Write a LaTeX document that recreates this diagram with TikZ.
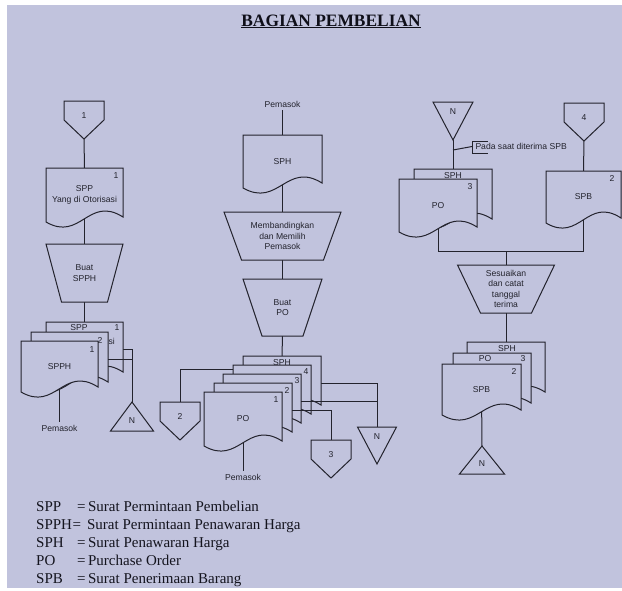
\documentclass[tikz,border=0pt]{standalone}
\usepackage{fontspec}
\setmainfont{Liberation Serif}
\newfontfamily\dsans{Liberation Sans}
\usetikzlibrary{calc}
\definecolor{paper}{RGB}{193,195,221}
\definecolor{ink}{RGB}{35,35,45}
\pgfdeclarelayer{bgfill}
\pgfdeclarelayer{wires}
\pgfsetlayers{bgfill,wires,main}

% document shape: name, x, y (top-left), w, h, text
\newcommand{\flowdoc}[6]{%
  \path[shapeline] (#2,#3) -- ({#2+#4},#3) -- ({#2+#4},{#3+#5-5})
     .. controls ({#2+0.55*#4},{#3+#5-27}) and ({#2+0.45*#4},{#3+#5+20}) .. (#2,{#3+#5}) -- cycle;
  \node[lbl, minimum width=#4, minimum height=#5] (#1) at ({#2+#4/2},{#3+#5/2}) {#6};
}
% manual operation (trapezium): name, cx, ytop, topw, botw, h, text
\newcommand{\trapop}[7]{%
  \path[shapeline] ({#2-#4/2},#3) -- ({#2+#4/2},#3) -- ({#2+#5/2},{#3+#6}) -- ({#2-#5/2},{#3+#6}) -- cycle;
  \node[lbl, minimum width=#4, minimum height=#6] (#1) at (#2,{#3+#6/2}) {#7};
}
% off-page connector: name, cx, ytop, label
\newcommand{\offpg}[4]{%
  \path[shapeline] ({#2-20},#3) -- ({#2+20},#3) -- ({#2+20},{#3+19}) -- (#2,{#3+38}) -- ({#2-20},{#3+19}) -- cycle;
  \node[holder, minimum width=40, minimum height=38] (#1) at (#2,{#3+19}) {};
  \node[lbl] (#1-t) at (#2,{#3+14.5}) {#4};
}
% file triangle pointing up: name, cx, yapex, w, h
\newcommand{\trup}[5]{%
  \path[shapeline] (#2,#3) -- ({#2+#4/2},{#3+#5}) -- ({#2-#4/2},{#3+#5}) -- cycle;
  \node[holder, minimum width=#4, minimum height=#5] (#1) at (#2,{#3+#5/2}) {};
  \node[lbl] (#1-t) at (#2,{#3+#5-10}) {N};
}
% file triangle pointing down: name, cx, ytop, w, h
\newcommand{\trdn}[5]{%
  \path[shapeline] ({#2-#4/2},#3) -- ({#2+#4/2},#3) -- (#2,{#3+#5}) -- cycle;
  \node[holder, minimum width=#4, minimum height=#5] (#1) at (#2,{#3+#5/2}) {};
  \node[lbl] (#1-t) at (#2,{#3+10}) {N};
}

\begin{document}
\begin{tikzpicture}[x=1pt,y=-1pt,
  shapeline/.style={draw=ink, line width=1pt, fill=paper, line join=miter},
  wire/.style={draw=ink, line width=1pt},
  lbl/.style={font=\dsans\fontsize{8.6}{10.5}\selectfont, text=ink, inner sep=0pt, outer sep=0pt, align=center},
  pemlbl/.style={lbl, inner sep=3pt},
  holder/.style={inner sep=0pt, outer sep=0pt, draw=none},
  leg/.style={font=\fontsize{15}{18}\selectfont, text={rgb,255:red,20;green,20;blue,30}, inner sep=0pt, anchor=base west}]
\useasboundingbox (0,0) rectangle (622,590);
\begin{pgfonlayer}{bgfill}
  \fill[white] (0,0) rectangle (622,590);
  \fill[paper] (7,5) rectangle (622,588);
\end{pgfonlayer}

% title
\node[font=\bfseries\fontsize{17.4}{20}\selectfont, anchor=base, text={rgb,255:red,15;green,15;blue,25}, inner sep=0pt] (title) at (331,26) {\underline{BAGIAN PEMBELIAN}};

% ---------- left column ----------
\offpg{c1}{84}{101}{1}
\flowdoc{sppY}{46}{168}{77}{54}{SPP\\Yang di Otorisasi}
\node[lbl] (sppY-n) at (116,176) {1};
\trapop{bspph}{84.5}{244}{77}{46}{58}{Buat\\SPPH}
\flowdoc{sppB}{46}{322}{77}{55}{}
\node[lbl] (sppB-t) at (79,328) {SPP};
\node[lbl] (sppB-n) at (117,328) {1};
\node[lbl, anchor=west] (sppB-s) at (108.5,341) {si};
\flowdoc{sppM}{31}{332}{77}{55}{}
\node[lbl] (sppM-n) at (100,340) {2};
\flowdoc{spph}{21}{341}{77}{51}{SPPH}
\node[lbl] (spph-n) at (92,350) {1};
\node[pemlbl] (pem1) at (59.5,428) {Pemasok};
\trup{nL}{132}{402}{43}{29}

% ---------- middle column ----------
\node[pemlbl] (pem2) at (282.5,104) {Pemasok};
\flowdoc{sph}{243}{135}{79}{53}{SPH}
\trapop{banding}{282.5}{212}{117}{82}{48}{Membandingkan\\dan Memilih\\Pemasok}
\trapop{buatpo}{282.5}{279}{79}{41}{57}{Buat\\PO}
\flowdoc{poSPH}{243}{356}{78}{54}{}
\node[lbl] (poSPH-t) at (282,363) {SPH};
\flowdoc{po4}{233}{365}{78}{54}{}
\node[lbl] (po4-n) at (306,372) {4};
\flowdoc{po3}{223}{374}{78}{54}{}
\node[lbl] (po3-n) at (297,381) {3};
\flowdoc{po2}{214}{383}{78}{54}{}
\node[lbl] (po2-n) at (287,390) {2};
\flowdoc{po1}{204}{392}{78}{54}{PO}
\node[lbl] (po1-n) at (276,400) {1};
\node[pemlbl] (pem3) at (243,477) {Pemasok};
\offpg{c2}{180}{402}{2}
\offpg{c3}{331}{440}{3}
\trdn{nM}{377}{427}{39}{37}

% ---------- right column ----------
\trdn{nR}{453}{102}{40}{38}
\flowdoc{sphR}{414}{169}{78}{55}{}
\node[lbl] (sphR-t) at (453,176) {SPH};
\flowdoc{poR}{399}{179}{78}{53}{PO}
\node[lbl] (poR-n) at (470,187) {3};
\offpg{c4}{584}{103}{4}
\flowdoc{spbR}{546}{171}{75}{52}{SPB}
\node[lbl] (spbR-n) at (612,178) {2};
\trapop{sesuai}{506}{265}{97}{51}{48}{Sesuaikan\\dan catat\\tanggal\\terima}
\flowdoc{sphR2}{467}{342}{78}{55}{}
\node[lbl] (sphR2-t) at (507,349) {SPH};
\flowdoc{poR2}{453}{353}{78}{55}{}
\node[lbl] (poR2-t) at (485,359) {PO};
\node[lbl] (poR2-n) at (523,359) {3};
\flowdoc{spbR2}{442}{364}{79}{51}{SPB}
\node[lbl] (spbR2-n) at (514,371) {2};
\trup{nB}{482}{446}{45}{28}

% annotation
\coordinate (annoA) at (453,150);
\coordinate (annoB) at (472,146.5);
\draw[wire] (annoA) -- (annoB);
\draw[wire] (488,141) -- (472,141) -- (472,153) -- (488,153);
\node[lbl, anchor=west] (note) at (475.5,146.5) {Pada saat diterima SPB};

% ---------- connectors behind shapes ----------
\begin{pgfonlayer}{wires}
  \draw[wire] (c1.south) -- (sppY.north);
  \draw[wire] (sppY.center) -- (bspph.north);
  \draw[wire] (bspph.south) -- (sppB.north);
  \draw[wire] (spph.center) -- (pem1.north);
  \draw[wire] (sppB.east) -| (nL.north);

  \draw[wire] (pem2.south) -- (sph.north);
  \draw[wire] (sph.center) -- (banding.north);
  \draw[wire] (banding.south) -- (buatpo.north);
  \draw[wire] (buatpo.south) -- (poSPH.north);
  \draw[wire] (po1.center) -- (pem3.north);
  \draw[wire] ([yshift=-4pt]po4.north west) -| (c2.north);
  \draw[wire] (poSPH.east) -| (nM.north);

  \draw[wire] (nR.south) -- (sphR.north);
  \draw[wire] (c4.south) -- (spbR.north);
  \coordinate (jrow) at (0,251);
  \draw[wire] (poR.center) -- (poR.center |- jrow) -| (spbR.center);
  \draw[wire] (sesuai.north) -- (sesuai.north |- jrow);
  \draw[wire] (sesuai.south) -- (sphR2.north);
  \draw[wire] (spbR2.center) -- (nB.north);
\end{pgfonlayer}

% ---------- connectors drawn over the stacked copies ----------
\draw[wire] (sppM.east) -- (sppM.east -| nL.north);
\draw[wire] (po3.east) -- (po3.east -| nM.north);
\draw[wire] (po2.east) -| (c3.north);

% ---------- legend ----------
\node[leg] (lg1) at (36,511) {\makebox[41pt][l]{SPP}=\,Surat Permintaan Pembelian};
\node[leg] (lg2) at (36,529) {\makebox[36.5pt][l]{SPPH}=\hspace{6pt}Surat Permintaan Penawaran Harga};
\node[leg] (lg3) at (36,547) {\makebox[41pt][l]{SPH}=\,Surat Penawaran Harga};
\node[leg] (lg4) at (36,565) {\makebox[41pt][l]{PO}=\,Purchase Order};
\node[leg] (lg5) at (36,583) {\makebox[41pt][l]{SPB}=\,Surat Penerimaan Barang};
\end{tikzpicture}
\end{document}
